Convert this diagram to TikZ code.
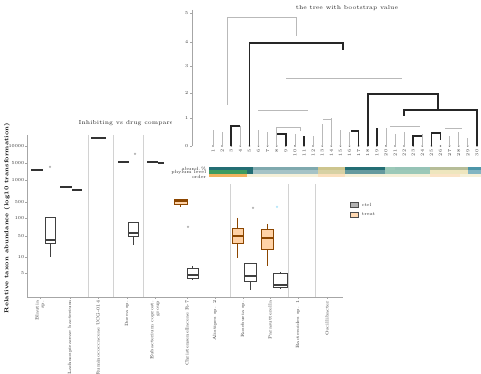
\documentclass[tikz,border=0pt]{standalone}
\usepackage{tikz}
\usetikzlibrary{positioning}
\usetikzlibrary{calc}
\definecolor{cteal}{HTML}{236E74}
\definecolor{cteal2}{HTML}{7FA9AE}
\definecolor{colive}{HTML}{CDC58E}
\definecolor{cgreen}{HTML}{3E9B5F}
\definecolor{corange}{HTML}{F2B25E}
\definecolor{cpale}{HTML}{EEE6BE}
\definecolor{cmint}{HTML}{9CC9B8}
\definecolor{csky}{HTML}{4C95A8}
\tikzstyle{tiny}    = [font=\fontsize{2.6}{3}\selectfont, inner sep=0.3pt, text=black!80]
\tikzstyle{ttl}     = [font=\fontsize{3.3}{4}\selectfont, inner sep=0pt, text=black!85]
\tikzstyle{ylab}    = [font=\fontsize{3.3}{4}\selectfont\bfseries, inner sep=0pt, rotate=90]
\tikzstyle{xlab}    = [tiny, rotate=90, anchor=east, align=right]
\tikzstyle{grid}    = [gray!35, line width=0.3pt]
\tikzstyle{axis}    = [gray!70, line width=0.3pt]
\tikzstyle{brgray}  = [gray!55, line width=0.4pt]
\tikzstyle{brblack} = [black!85, line width=1pt]
\tikzstyle{flat}    = [black!80, line width=1.3pt]
\tikzstyle{cctrl}   = [draw=black!75, fill=white, line width=0.45pt]
\tikzstyle{ctreat}  = [draw=orange!55!black, fill=orange!35, line width=0.45pt]
\tikzstyle{dot}     = [circle, inner sep=0pt, minimum size=0.05cm, fill=gray!60]
\tikzstyle{lgbox}   = [draw=black!70, inner sep=0pt, minimum width=0.16cm, minimum height=0.1cm]

\begin{document}
\begin{tikzpicture}[x=0.02cm, y=-0.02cm]
     \useasboundingbox (0,0) rectangle (481,374);
     % box plot panel
     \foreach \x in {88,113,143,230,288,315}
       \draw[grid] (\x,135) -- (\x,297);
     \draw[axis] (27,135) -- (27,297) -- (343,297);
     \foreach \y/\t in {146/10000,163/5000,180/1000,202/500,218/100,236/50,257/10,273/5} {
       \draw[axis] (25,\y) -- (27,\y);
       \node[tiny, anchor=east] (yt\t) at (25,\y) {\t};
     }
     \node[ylab] (ylab) at (7,218) {Relative taxon abundance (log10 transformation)};
     \node[ttl] (boxttl) at (126,123) {Inhibiting vs drug compare};
     \foreach \x/\n/\t in {40/1/{Blautia\\sp.}, 70/2/{Lachnospiraceae bacterium}, 98/3/{Ruminococcaceae UCG-014},
                          127/4/{Dorea sp.}, 155/5/{Eubacterium coprost.\\group}, 187/6/{Christensenellaceae R-7},
                          215/7/{Alistipes sp. 2}, 243/8/{Roseburia sp.}, 270/9/{Parasutterella},
                          298/10/{Bacteroides sp. 1}, 327/11/{Oscillibacter}} {
       \draw[axis] (\x,297) -- (\x,299);
       \node[xlab] (xl\n) at (\x,300) {\t};
     }
     % collapsed boxes
     \foreach \xa/\xb/\y in {31/43/170, 60/72/187, 72/82/190, 91/106/138, 118/129/162, 147/158/162, 158/164/163}
       \draw[flat] (\xa,\y) -- (\xb,\y);
     % boxes: x / half width / whisker top / q3 / median / q1 / whisker bottom / style
     \foreach \x/\w/\wt/\qt/\md/\qb/\wb/\st in {50/5/217/217/240/243/257/cctrl, 133/5/222/222/233/236/245/cctrl,
                          180.5/6.5/199/199/201/204/207/ctreat, 192.5/5.5/266/268/275/278/280/cctrl,
                          237.5/5.5/218/228/236/243/258/ctreat, 250/6/263/263/276/281/290/cctrl,
                          267/6/224/229/238/249/266/ctreat, 280/7/272/273/285/287/289/cctrl} {
       \draw[\st] (\x,\wt) -- (\x,\qt) (\x,\qb) -- (\x,\wb);
       \draw[\st] (\x-\w,\qt) rectangle (\x+\w,\qb);
       \draw[\st, line width=0.9pt] (\x-\w,\md) -- (\x+\w,\md);
     }
     \foreach \x/\y/\n in {50/167/1, 135/154/2, 188/227/3, 253/208/4}
       \node[dot] (out\n) at (\x,\y) {};
     \node[dot, fill=cyan!30] (out5) at (277,207) {};
     % legend
     \node[lgbox, fill=gray!60] (lgctrl) at (354,205) {};
     \node[lgbox, fill=orange!30] (lgtreat) at (354,214.5) {};
     \node[tiny, right=1.5pt of lgctrl] (lgctrltxt) {ctrl};
     \node[tiny, right=1.5pt of lgtreat] (lgtreattxt) {treat};

     % tree panel
     \fill[white] (172,0) rectangle (481,184);
     \node[ttl] (treettl) at (347,8) {the tree with bootstrap value};
     \draw[axis] (192,10) -- (192,146);
     \foreach \y/\t in {146/0,118/1,93/2,66/3,42/4,13/5} {
       \draw[axis] (190,\y) -- (192,\y);
       \node[tiny, anchor=east] (tt\t) at (189,\y) {\t};
     }
     \foreach \i [evaluate=\i as \lx using 213+9.1*\i, evaluate=\i as \k using int(\i+1)] in {0,...,29} {
       \fill[black!55] (\lx,146) circle (0.9);
       \node[tiny, rotate=90, anchor=east] (leaf\i) at (\lx,149) {\k};
     }
     % thin branches
     \foreach \x/\t in {213/130, 222.1/132, 240.3/126, 258.5/130, 267.6/132, 294.9/134, 313.1/136, 322.2/124,
                        331.3/118, 340.4/130, 349.5/132, 385.9/128, 395/134, 404.1/132, 422.3/134, 449.6/136,
                        458.7/132, 467.8/138}
       \draw[brgray] (\x,146) -- (\x,\t);
     \draw[brgray] (227,105) -- (227,17) -- (296,17) -- (296,36);
     \draw[brgray] (286,78) -- (402,78);
     \draw[brgray] (258,110) -- (308,110);
     \draw[brgray] (276.7,146) -- (276.7,127) -- (300,127) -- (300,131);
     \draw[brgray] (323,119) -- (331.3,119);
     \draw[brgray] (390,126) -- (420,126);
     \draw[brgray] (445,128) -- (462,128);
     % thick branches
     \draw[brblack] (231.2,146) -- (231.2,126) -- (240.3,126);
     \draw[brblack] (249.4,146) -- (249.4,43) -- (343,43) -- (343,50);
     \draw[brblack] (285.8,146) -- (285.8,134) -- (277,134);
     \draw[brblack] (304,146) -- (304,136);
     \draw[brblack] (351,131) -- (358.6,131) -- (358.6,146);
     \draw[brblack] (367.7,146) -- (367.7,94) -- (438,94) -- (438,110);
     \draw[brblack] (376.8,146) -- (376.8,128);
     \draw[brblack] (404,116) -- (404,110) -- (476.9,110) -- (476.9,146);
     \draw[brblack] (413.2,146) -- (413.2,136) -- (422.3,136);
     \draw[brblack] (431.4,146) -- (431.4,133) -- (440.5,133) -- (440.5,140);
     % colour bars
     \foreach \xa/\xb/\c in {209/253/cteal, 253/318/cteal2, 318/345/colive, 345/385/cteal, 385/395/cmint,
                            395/430/cmint!80!cteal2, 430/468/colive!70!cteal2, 468/481/csky}
       \fill[\c] (\xa,167) rectangle (\xb,170.5);
     \foreach \xa/\xb/\c in {209/247/cgreen, 247/253/cteal, 253/318/cteal2!70, 318/345/colive!80, 345/385/cteal!70,
                            385/430/cmint, 430/468/cpale, 468/481/csky!70}
       \fill[\c] (\xa,170.5) rectangle (\xb,174);
     \foreach \xa/\xb/\c in {209/247/corange, 247/318/cpale!60, 318/345/corange!40, 345/430/cpale!60,
                            430/460/corange!35, 460/481/cpale!60}
       \fill[\c] (\xa,174) rectangle (\xb,177);
     \node[tiny, anchor=east] (bar1) at (207,168.5) {abund.\,\%};
     \node[tiny, anchor=east] (bar2) at (207,172.5) {phylum level};
     \node[tiny, anchor=east] (bar3) at (207,176.5) {order};
\end{tikzpicture}
\end{document}
